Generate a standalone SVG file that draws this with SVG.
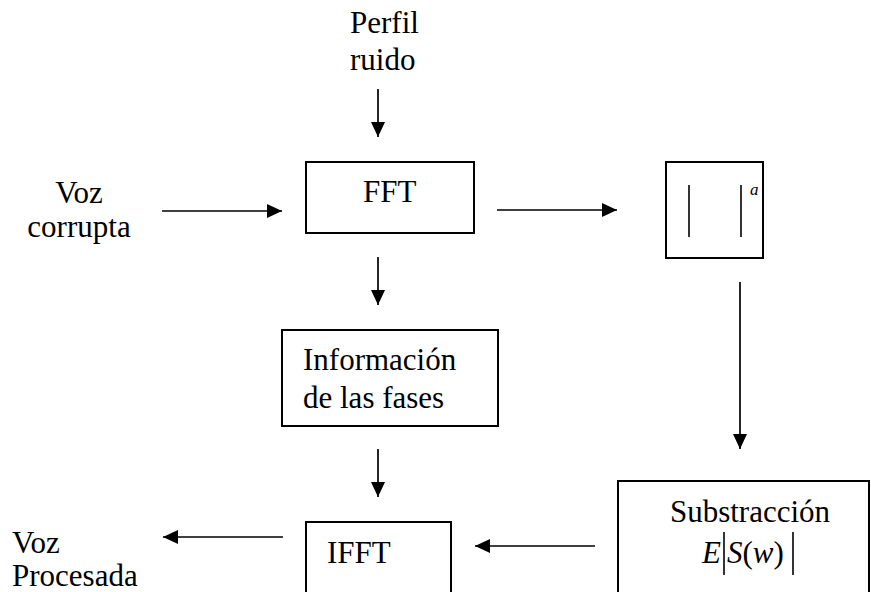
<svg xmlns="http://www.w3.org/2000/svg" width="871" height="592" viewBox="0 0 871 592">
  <style>
    .box { fill: none; stroke: #000; stroke-width: 2; }
    .wire { fill: none; stroke: #000; stroke-width: 1.7; marker-end: url(#head); }
    .bar { stroke: #000; stroke-width: 1.6; }
    text { font-family: "Liberation Serif", "Times New Roman", serif; font-size: 31px; fill: #000; }
    .it { font-style: italic; }
  </style>
  <defs>
    <marker id="head" markerUnits="userSpaceOnUse" markerWidth="15" markerHeight="14" refX="15" refY="7" orient="auto">
      <path d="M0,0 L15,7 L0,14 Z" fill="#000"/>
    </marker>
  </defs>
  <rect width="871" height="592" fill="#fff"/>

  <!-- free labels -->
  <g id="perfil-ruido">
    <text x="350" y="33">Perfil</text>
    <text x="350" y="70">ruido</text>
  </g>
  <g id="voz-corrupta">
    <text x="79" y="203" text-anchor="middle">Voz</text>
    <text x="79" y="237" text-anchor="middle">corrupta</text>
  </g>
  <g id="voz-procesada">
    <text x="12" y="553">Voz</text>
    <text x="12" y="586">Procesada</text>
  </g>

  <!-- processing blocks -->
  <g id="fft">
    <rect class="box" x="306" y="162" width="168" height="71"/>
    <text x="363" y="202">FFT</text>
  </g>
  <g id="magnitude">
    <rect class="box" x="666" y="162" width="97" height="96"/>
    <line class="bar" x1="689" y1="185" x2="689" y2="237"/>
    <line class="bar" x1="741" y1="185" x2="741" y2="237"/>
    <text class="it" x="750" y="195" style="font-size:17px">a</text>
  </g>
  <g id="fases">
    <rect class="box" x="282" y="330" width="216" height="96"/>
    <text x="303" y="370">Información</text>
    <text x="303" y="408">de las fases</text>
  </g>
  <g id="ifft">
    <rect class="box" x="306" y="522" width="145" height="80"/>
    <text x="327" y="563">IFFT</text>
  </g>
  <g id="substraccion">
    <rect class="box" x="618" y="481" width="251" height="121"/>
    <text x="750" y="522" text-anchor="middle">Substracción</text>
    <text class="it" x="702" y="563">E</text>
    <line class="bar" x1="724" y1="532" x2="724" y2="575"/>
    <text x="727" y="563"><tspan class="it">S</tspan>(<tspan class="it">w</tspan>)</text>
    <line class="bar" x1="793" y1="532" x2="793" y2="575"/>
  </g>

  <!-- connectors -->
  <g id="connectors">
    <line class="wire" x1="378" y1="89" x2="378" y2="137"/>
    <line class="wire" x1="162" y1="211" x2="282" y2="211"/>
    <line class="wire" x1="497" y1="210" x2="617" y2="210"/>
    <line class="wire" x1="740" y1="282" x2="740" y2="449"/>
    <line class="wire" x1="378" y1="257" x2="378" y2="305"/>
    <line class="wire" x1="378" y1="449" x2="378" y2="497"/>
    <line class="wire" x1="595" y1="546" x2="475" y2="546"/>
    <line class="wire" x1="283" y1="537" x2="163" y2="537"/>
  </g>
</svg>
